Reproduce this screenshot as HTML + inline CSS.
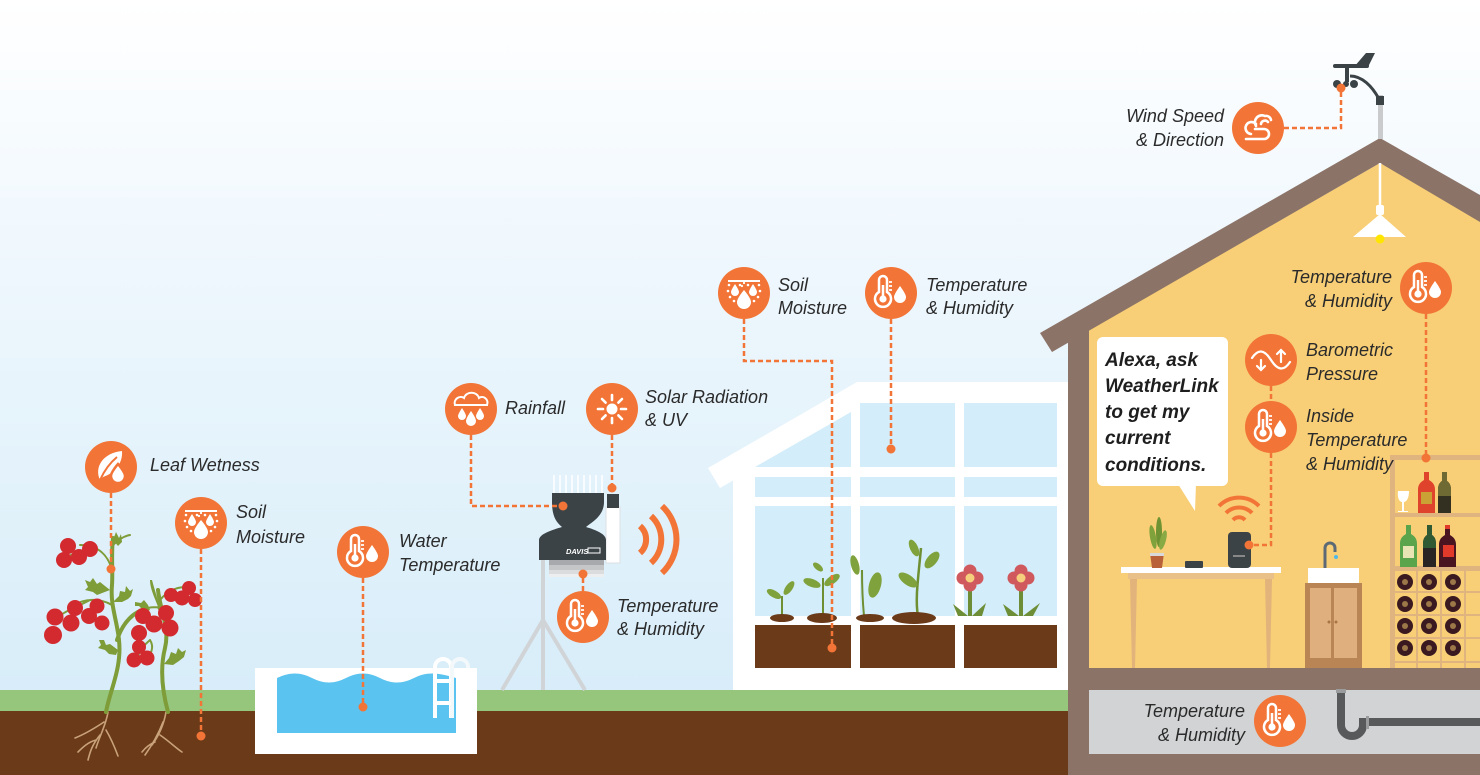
<!DOCTYPE html>
<html><head><meta charset="utf-8">
<style>
html,body{margin:0;padding:0;background:#fff;}
svg{display:block;}
.lbl{font-family:"Liberation Sans",Arial,sans-serif;font-style:italic;font-size:18px;fill:#2b2b2b;}
.alexa{font-family:"Liberation Sans",Arial,sans-serif;font-style:italic;font-weight:bold;font-size:19px;fill:#1e1e1e;}
.dash{stroke:#f27537;stroke-width:2.5;stroke-dasharray:5 3;fill:none;}
.dot{fill:#f27537;}
</style></head>
<body>
<svg width="1480" height="775" viewBox="0 0 1480 775" xmlns="http://www.w3.org/2000/svg">
<defs>
<linearGradient id="sky" x1="0" y1="0" x2="0" y2="1">
<stop offset="0" stop-color="#ffffff"/>
<stop offset="0.35" stop-color="#eef7fd"/>
<stop offset="1" stop-color="#d3ebf8"/>
</linearGradient>
<g id="thermo">
<circle r="26" fill="#f27537"/>
<path d="M-12,-13 a4,4 0 0 1 8,0 v12 a8,8 0 1 1 -8,0 z" fill="none" stroke="#fff" stroke-width="2.5"/>
<circle cx="-8" cy="6" r="3.6" fill="#fff"/>
<line x1="-8" y1="6" x2="-8" y2="-8" stroke="#fff" stroke-width="2.5"/>
<path d="M-2,-11 h3 M-2,-7 h3 M-2,-3 h3" stroke="#fff" stroke-width="1.8"/>
<path d="M9,-7 C9,-7 3,1 3,4 a6,6 0 0 0 12,0 C15,1 9,-7 9,-7 z" fill="#fff"/>
</g>
<g id="soil">
<circle r="26" fill="#f27537"/>
<line x1="-16" y1="-12" x2="16" y2="-12" stroke="#fff" stroke-width="2"/>
<path d="M0,-3 C0,-3 -7,5 -7,9 a7,7 0 0 0 14,0 C7,5 0,-3 0,-3 z" fill="#fff"/>
<path d="M-9,-9 C-9,-9 -13,-3 -13,-1 a4,4 0 0 0 8,0 C-5,-3 -9,-9 -9,-9 z" fill="#fff"/>
<path d="M9,-9 C9,-9 5,-3 5,-1 a4,4 0 0 0 8,0 C13,-3 9,-9 9,-9 z" fill="#fff"/>
<g fill="#fff"><circle cx="-15" cy="-8" r="1.3"/><circle cx="-4" cy="-8" r="1.3"/><circle cx="4" cy="-8" r="1.3"/><circle cx="15" cy="-8" r="1.3"/><circle cx="-16" cy="-2" r="1.3"/><circle cx="16" cy="-2" r="1.3"/><circle cx="-14" cy="4" r="1.3"/><circle cx="14" cy="4" r="1.3"/><circle cx="-10" cy="8" r="1.3"/><circle cx="10" cy="8" r="1.3"/><circle cx="-2" cy="-7" r="1.1"/><circle cx="0" cy="-10" r="1.1"/></g>
</g>
<g id="leaf">
<circle r="26" fill="#f27537"/>
<path d="M-11,13 C-17,0 -8,-14 11,-16 C12,-4 4,6 -8,10 Z" fill="#fff"/>
<path d="M-11,13 C-6,2 0,-5 6,-10" stroke="#f27537" stroke-width="2" fill="none"/>
<path d="M7,-3 C7,-3 0,5 0,9 a7,7 0 0 0 14,0 C14,5 7,-3 7,-3 z" fill="#fff" stroke="#f27537" stroke-width="2.5"/>
</g>
<g id="rain">
<circle r="26" fill="#f27537"/>
<path d="M-16,-4 C-18,-10 -11,-14 -7,-11 C-5,-18 6,-18 8,-11 C12,-14 18,-10 16,-4" fill="none" stroke="#fff" stroke-width="2"/>
<line x1="-17" y1="-4" x2="17" y2="-4" stroke="#fff" stroke-width="2"/>
<path d="M-9,-1 C-9,-1 -13,5 -13,7 a4,4 0 0 0 8,0 C-5,5 -9,-1 -9,-1 z" fill="#fff"/>
<path d="M9,-1 C9,-1 5,5 5,7 a4,4 0 0 0 8,0 C13,5 9,-1 9,-1 z" fill="#fff"/>
<path d="M0,2 C0,2 -5,9 -5,12 a5,5 0 0 0 10,0 C5,9 0,2 0,2 z" fill="#fff"/>
</g>
<g id="sun">
<circle r="26" fill="#f27537"/>
<circle r="5.5" fill="#fff"/>
<g stroke="#fff" stroke-width="2.6" stroke-linecap="round">
<line x1="0" y1="-9" x2="0" y2="-14"/><line x1="0" y1="9" x2="0" y2="14"/>
<line x1="-9" y1="0" x2="-14" y2="0"/><line x1="9" y1="0" x2="14" y2="0"/>
<line x1="6.4" y1="-6.4" x2="10" y2="-10"/><line x1="-6.4" y1="6.4" x2="-10" y2="10"/>
<line x1="6.4" y1="6.4" x2="10" y2="10"/><line x1="-6.4" y1="-6.4" x2="-10" y2="-10"/>
</g>
</g>
<g id="wind">
<circle r="26" fill="#f27537"/>
<g fill="none" stroke="#fff" stroke-width="2.6" stroke-linecap="round">
<path d="M-12,11 H6 a5,5 0 0 0 0,-10 H-3"/>
<path d="M-7,6 a6,6 0 1 1 5,-10"/>
<path d="M-2,-2 a7,7 0 0 1 9,-10 a5,5 0 0 1 6,4"/>
<path d="M3,-4 a4,4 0 0 1 7,-2"/>
</g>
</g>
<g id="baro">
<circle r="26" fill="#f27537"/>
<g fill="none" stroke="#fff" stroke-width="2.2" stroke-linecap="round">
<path d="M-19,-2 C-13,-11 -7,-11 0,0 C7,11 13,11 19,2"/>
<path d="M-10,0 V10 M-14,6 L-10,10 L-6,6"/>
<path d="M10,2 V-10 M6,-6 L10,-10 L14,-6"/>
</g>
</g>
</defs>

<!-- sky & ground -->
<rect x="0" y="0" width="1480" height="775" fill="url(#sky)"/>
<rect x="0" y="690" width="1080" height="22" fill="#96c57c"/>
<rect x="0" y="711" width="1080" height="64" fill="#6a3a19"/>

<!-- greenhouse -->
<polygon points="733,690 733,478 868,400 1068,400 1068,690" fill="#fff"/>
<polygon points="708,468 857,382 1068,382 1068,403 867,403 720,488" fill="#fff"/>
<g fill="#d3edfa">
<polygon points="755,467 851,412 851,467"/>
<rect x="860" y="403" width="95" height="64"/>
<rect x="964" y="403" width="93" height="64"/>
<rect x="755" y="477" width="96" height="20"/>
<rect x="860" y="477" width="95" height="20"/>
<rect x="964" y="477" width="93" height="20"/>
<rect x="755" y="506" width="96" height="110"/>
<rect x="860" y="506" width="95" height="110"/>
<rect x="964" y="506" width="93" height="110"/>
</g>
<g fill="#6a3a19">
<rect x="755" y="625" width="96" height="43"/>
<rect x="860" y="625" width="95" height="43"/>
<rect x="964" y="625" width="93" height="43"/>
</g>
<!-- seedlings -->
<g fill="#7fa23c" stroke="none">
<path d="M782,616 V596" stroke="#6f8f33" stroke-width="2"/>
<ellipse cx="774" cy="594" rx="8" ry="3.5" transform="rotate(30 774 594)"/>
<ellipse cx="789" cy="588" rx="8" ry="3.5" transform="rotate(-55 789 588)"/>
<path d="M823,616 V578" stroke="#6f8f33" stroke-width="2"/>
<ellipse cx="812" cy="583" rx="9" ry="4" transform="rotate(20 812 583)"/>
<ellipse cx="832" cy="580" rx="9" ry="4" transform="rotate(-35 832 580)"/>
<ellipse cx="818" cy="567" rx="6" ry="3" transform="rotate(40 818 567)"/>
<ellipse cx="855" cy="565" rx="4" ry="10" transform="rotate(-15 855 565)"/>
<path d="M864,616 C862,595 862,580 862,570" stroke="#6f8f33" stroke-width="2" fill="none"/>
<ellipse cx="875" cy="585" rx="6" ry="13" transform="rotate(15 875 585)"/>
<path d="M918,616 C915,600 918,580 921,548" stroke="#6f8f33" stroke-width="2.5" fill="none"/>
<ellipse cx="908" cy="580" rx="11" ry="5" transform="rotate(35 908 580)"/>
<ellipse cx="932" cy="560" rx="10" ry="5" transform="rotate(-50 932 560)"/>
<ellipse cx="914" cy="548" rx="4" ry="9" transform="rotate(-25 914 548)"/>
</g>
<g fill="#6a3a19">
<ellipse cx="782" cy="618" rx="12" ry="4"/>
<ellipse cx="822" cy="618" rx="15" ry="5"/>
<ellipse cx="870" cy="618" rx="14" ry="4"/>
<ellipse cx="914" cy="618" rx="22" ry="6"/>
</g>
<!-- flowers -->
<g>
<path d="M970,616 V590 M1021,616 V590" stroke="#6d8e36" stroke-width="4"/>
<path d="M953,604 L968,616 L958,616Z M986,603 L972,616 L982,616Z M1003,604 L1019,616 L1008,616Z M1040,603 L1023,616 L1033,616Z" fill="#6d8e36"/>
<g fill="#d0595e">
<circle cx="963" cy="578" r="6.5"/><circle cx="977" cy="578" r="6.5"/><circle cx="970" cy="571" r="6.5"/><circle cx="970" cy="585" r="6.5"/>
<circle cx="1014" cy="578" r="6.5"/><circle cx="1028" cy="578" r="6.5"/><circle cx="1021" cy="571" r="6.5"/><circle cx="1021" cy="585" r="6.5"/>
</g>
<circle cx="970" cy="578" r="4.5" fill="#f6cf7c"/>
<circle cx="1021" cy="578" r="4.5" fill="#f6cf7c"/>
</g>

<!-- house -->
<rect x="1068" y="330" width="412" height="445" fill="#8c7367"/>
<polygon points="1089,330 1380,163 1480,220 1480,668 1089,668" fill="#f8cf76"/>
<polygon points="1040,333 1380,138 1480,195 1480,222 1380,163 1052,352" fill="#8c7367"/>
<rect x="1089" y="690" width="391" height="64" fill="#d1d3d4"/>
<!-- pipe -->
<path d="M1341,690 V725 a11,11 0 0 0 22,0 V722 H1480" fill="none" stroke="#58595b" stroke-width="8"/>
<rect x="1336" y="689" width="10" height="4" fill="#9a9b9d"/>
<rect x="1366" y="716" width="3" height="13" fill="#9a9b9d"/>
<!-- lamp -->
<line x1="1380" y1="163" x2="1380" y2="208" stroke="#fff" stroke-width="2.5"/>
<rect x="1376" y="205" width="8" height="10" rx="2" fill="#fff"/>
<polygon points="1353,237 1380,214 1406,237" fill="#fff"/>
<circle cx="1380" cy="239" r="4.5" fill="#ffe600"/>
<!-- wind vane -->
<rect x="1378" y="95" width="5" height="44" fill="#c9cbcd"/>
<rect x="1376" y="96" width="8" height="9" fill="#3b4347"/>
<path d="M1350,76 C1362,76 1372,86 1379,99" stroke="#3b4347" stroke-width="3" fill="none"/>
<polygon points="1354,67 1366,53 1375,53 1368,67" fill="#3b4347"/>
<rect x="1333" y="64" width="36" height="4" rx="2" fill="#3b4347"/>
<rect x="1345" y="66" width="4" height="16" fill="#3b4347"/>
<circle cx="1337" cy="84" r="4" fill="#3b4347"/><circle cx="1354" cy="84" r="4" fill="#3b4347"/><circle cx="1346" cy="84" r="3" fill="#3b4347"/>
<!-- wine rack -->
<g fill="#dfb47e">
<rect x="1390" y="455" width="5" height="213"/>
<rect x="1390" y="455" width="90" height="5"/>
<rect x="1390" y="513" width="90" height="4"/>
<rect x="1390" y="566" width="90" height="5"/>
<rect x="1390" y="591" width="90" height="2"/><rect x="1390" y="614" width="90" height="2"/><rect x="1390" y="637" width="90" height="2"/><rect x="1390" y="661" width="90" height="2"/>
<rect x="1416" y="571" width="2" height="97"/><rect x="1440" y="571" width="2" height="97"/><rect x="1464" y="571" width="2" height="97"/>
</g>
<g>
<g fill="#3a1a20">
<circle cx="1405" cy="582" r="8"/><circle cx="1429" cy="582" r="8"/><circle cx="1453" cy="582" r="8"/>
<circle cx="1405" cy="604" r="8"/><circle cx="1429" cy="604" r="8"/><circle cx="1453" cy="604" r="8"/>
<circle cx="1405" cy="626" r="8"/><circle cx="1429" cy="626" r="8"/><circle cx="1453" cy="626" r="8"/>
<circle cx="1405" cy="648" r="8"/><circle cx="1429" cy="648" r="8"/><circle cx="1453" cy="648" r="8"/>
</g>
<g fill="#9c7748">
<circle cx="1405" cy="582" r="3"/><circle cx="1429" cy="582" r="3"/><circle cx="1453" cy="582" r="3"/>
<circle cx="1405" cy="604" r="3"/><circle cx="1429" cy="604" r="3"/><circle cx="1453" cy="604" r="3"/>
<circle cx="1405" cy="626" r="3"/><circle cx="1429" cy="626" r="3"/><circle cx="1453" cy="626" r="3"/>
<circle cx="1405" cy="648" r="3"/><circle cx="1429" cy="648" r="3"/><circle cx="1453" cy="648" r="3"/>
</g>
</g>
<!-- bottles -->
<path d="M1398,491 h11 c0,8 -3,11 -5,11 v9 h4 v1 h-10 v-1 h4 v-9 c-2,0 -5,-3 -4,-11z" fill="#fff"/>
<path d="M1424,472 h5 v8 c5,3 6,6 6,10 v23 h-17 v-23 c0,-4 1,-7 6,-10z" fill="#e0432b"/>
<rect x="1421" y="492" width="11" height="12" fill="#c9a135"/>
<path d="M1442,472 h5 v9 c3,2 4,5 4,9 v23 h-13 v-23 c0,-4 1,-7 4,-9z" fill="#333022"/>
<path d="M1442,472 h5 v9 c3,2 4,5 4,9 v6 h-13 v-6 c0,-4 1,-7 4,-9z" fill="#6f6a33"/>
<path d="M1406,525 h5 v9 c5,3 6,6 6,10 v23 h-17 v-23 c0,-4 1,-7 6,-10z" fill="#5aa44c"/>
<rect x="1403" y="546" width="11" height="12" fill="#e8e4b4"/>
<path d="M1427,525 h5 v10 c3,2 4,5 4,9 v23 h-13 v-23 c0,-4 1,-7 4,-9z" fill="#2a2525"/>
<path d="M1427,525 h5 v10 c3,2 4,5 4,9 v4 h-13 v-4 c0,-4 1,-7 4,-9z" fill="#2f5a33"/>
<path d="M1445,525 h5 v10 c5,3 6,6 6,10 v22 h-17 v-22 c0,-4 1,-7 6,-10z" fill="#4a1420"/>
<rect x="1443" y="545" width="11" height="12" fill="#e23a2a"/>
<rect x="1445" y="525" width="5" height="4" fill="#e23a2a"/>
<!-- table -->
<rect x="1121" y="567" width="160" height="6" fill="#fff"/>
<rect x="1128" y="573" width="146" height="6" fill="#e8c088"/>
<polygon points="1130,579 1137,579 1135,668 1132,668" fill="#e2b37b"/>
<polygon points="1265,579 1272,579 1270,668 1267,668" fill="#e2b37b"/>
<!-- plant pot -->
<path d="M1150,553 h14 l-2,15 h-10z" fill="#b9623a"/>
<rect x="1150" y="553" width="14" height="3" fill="#d9d9d9"/>
<ellipse cx="1153" cy="537" rx="3" ry="12" fill="#7fa23c" transform="rotate(-10 1153 537)"/>
<ellipse cx="1159" cy="532" rx="3" ry="15" fill="#6f9232"/>
<ellipse cx="1163" cy="540" rx="3" ry="10" fill="#88aa44" transform="rotate(15 1163 540)"/>
<rect x="1185" y="561" width="18" height="7" rx="1" fill="#3b4347"/>
<!-- device -->
<rect x="1228" y="532" width="23" height="36" rx="4" fill="#3b4347"/>
<rect x="1233" y="555" width="12" height="2" fill="#888"/>
<g fill="none" stroke="#f27537" stroke-width="4" stroke-linecap="butt">
<path d="M1233,520 a8,8 0 0 1 12,0"/>
<path d="M1226,513 a18,18 0 0 1 26,0"/>
<path d="M1219,506 a28,28 0 0 1 40,0"/>
</g>
<!-- sink -->
<rect x="1305" y="583" width="57" height="85" fill="#ba8554"/>
<rect x="1310" y="588" width="21" height="70" fill="#dfb07e"/>
<rect x="1334" y="588" width="23" height="70" fill="#dfb07e"/>
<circle cx="1329" cy="622" r="1.5" fill="#a87444"/><circle cx="1336" cy="622" r="1.5" fill="#a87444"/>
<path d="M1325,568 V548 a5,5 0 0 1 10,0 v4" stroke="#5d6a75" stroke-width="3" fill="none"/>
<circle cx="1336" cy="557" r="2" fill="#4fb8e8"/>
<rect x="1308" y="568" width="51" height="15" fill="#fff"/>
<!-- alexa bubble -->
<rect x="1097" y="337" width="131" height="149" rx="6" fill="#fff"/>
<polygon points="1178,484 1196,484 1195,511" fill="#fff"/>
<text class="alexa" x="1105" y="366">Alexa, ask</text>
<text class="alexa" x="1105" y="392">WeatherLink</text>
<text class="alexa" x="1105" y="418">to get my</text>
<text class="alexa" x="1105" y="444">current</text>
<text class="alexa" x="1105" y="471">conditions.</text>

<!-- pool -->
<rect x="255" y="668" width="222" height="86" fill="#fff"/>
<path d="M277,678 C290,672 300,672 312,678 C324,684 334,684 346,678 C358,672 368,672 380,678 C392,684 402,684 414,678 C426,672 436,672 456,678 V733 H277Z" fill="#5bc3ef"/>
<g fill="none" stroke="#fff" stroke-width="4">
<path d="M435,718 V667 a8,8 0 0 1 16,0 V718"/>
<path d="M452,718 V667 a8,8 0 0 1 16,0 V718" stroke="#f3f8fb"/>
<line x1="435" y1="681" x2="451" y2="681"/><line x1="435" y1="703" x2="451" y2="703"/>
</g>
<rect x="456" y="668" width="21" height="86" fill="#fff"/>

<!-- weather station -->
<g stroke="#d1d4d7" stroke-width="4" fill="none">
<line x1="543" y1="540" x2="543" y2="690"/>
<line x1="543" y1="620" x2="502" y2="690"/>
<line x1="543" y1="620" x2="585" y2="690"/>
</g>
<rect x="606" y="507" width="14" height="56" fill="#fff" stroke="#dcdfe2" stroke-width="1"/>
<rect x="607" y="494" width="12" height="14" fill="#3b4347"/>
<g stroke="#fff" stroke-width="1.5">
<line x1="554" y1="475" x2="554" y2="493"/><line x1="560" y1="475" x2="560" y2="493"/><line x1="566" y1="475" x2="566" y2="493"/><line x1="572" y1="475" x2="572" y2="493"/><line x1="578" y1="475" x2="578" y2="493"/><line x1="584" y1="475" x2="584" y2="493"/><line x1="590" y1="475" x2="590" y2="493"/><line x1="596" y1="475" x2="596" y2="493"/><line x1="602" y1="475" x2="602" y2="493"/>
</g>
<path d="M552,493 H604 V502 C604,516 592,522 586,527 C596,530 606,534 606,540 V560 H539 V540 C539,534 552,530 562,527 C556,522 552,516 552,502 Z" fill="#3b4347"/>
<text x="566" y="554" font-family="Liberation Sans,Arial,sans-serif" font-size="7.5" font-weight="bold" font-style="italic" fill="#fff">DAVIS</text>
<rect x="588" y="548" width="12" height="5" fill="none" stroke="#fff" stroke-width="1"/>
<rect x="549" y="560" width="55" height="5" fill="#a7a9ac"/>
<rect x="549" y="565" width="55" height="5" fill="#c4c6c8"/>
<rect x="549" y="570" width="55" height="4" fill="#dadcde"/>
<rect x="549" y="574" width="55" height="3" fill="#eceef0"/>
<g fill="none" stroke="#f27537" stroke-width="6">
<path d="M640,526 a18,18 0 0 1 0,27"/>
<path d="M651,516 a32,32 0 0 1 0,47"/>
<path d="M662,506 a46,46 0 0 1 0,67"/>
</g>

<!-- tomato plants -->
<g fill="none" stroke-linecap="round">
<g stroke="#c9a27a" stroke-width="1.6">
<path d="M108,712 C106,725 100,735 96,748 M104,722 C95,728 85,734 75,738 M100,735 C92,745 90,752 88,760 M106,730 C112,740 115,748 118,756 M96,740 C88,742 82,748 78,752"/>
<path d="M166,712 C164,724 160,734 152,745 M163,722 C158,735 150,748 145,755 M160,735 C170,742 176,748 182,752 M155,742 C150,744 146,747 142,752"/>
</g>
<g stroke="#7e9c38" stroke-width="4">
<path d="M106,712 C110,690 122,668 119,640 C117,620 110,605 112,585 C113,570 111,555 113,538"/>
<path d="M168,712 C162,690 160,668 165,648 C170,628 160,610 158,590"/>
<path d="M117,640 C122,625 130,615 142,610"/>
</g>
<g stroke="#7e9c38" stroke-width="2">
<path d="M112,570 C108,555 98,545 80,545 M96,548 C85,550 72,552 64,560"/>
<path d="M112,605 C100,598 85,598 72,606 M90,600 C75,608 62,612 55,620"/>
<path d="M142,610 C150,606 162,606 170,612 M158,607 C160,612 166,620 170,628"/>
<path d="M160,600 C168,590 180,585 192,588"/>
<path d="M150,640 C144,645 140,650 138,656 M150,640 C155,648 150,655 147,658"/>
<path d="M113,545 C118,540 124,536 130,535"/>
</g>
</g>
<g fill="#7e9c38">
<path d="M113,540 l3,-8 l3,6 l2,-4 l1,8 l-4,4z"/>
<path d="M110,590 l-10,-8 l-3,2 l-4,-6 l-3,4 l-5,-2 l3,7 l-3,3 l8,2 l4,3z"/>
<path d="M113,602 l6,-6 l1,-5 l5,1 l1,-6 l4,5 l3,-2 l-2,7 l-3,3 l-6,3z"/>
<path d="M118,650 l-8,-6 l-4,1 l-2,-5 l-5,0 l2,5 l-3,3 l7,2 l4,4 l7,1z"/>
<path d="M164,664 l5,-6 l2,-6 l5,2 l2,-6 l4,4 l4,-2 l-2,7 l-5,4 l-6,4z"/>
<path d="M152,580 C156,595 160,605 160,612 C156,600 150,590 150,580z"/>
<path d="M145,612 l-6,-6 l-4,0 l0,-4 l6,1 l3,-3 l4,5 l2,5z"/>
</g>
<g fill="#d32a2f">
<circle cx="68" cy="546" r="8"/><circle cx="64" cy="560" r="8"/><circle cx="79" cy="557" r="8"/><circle cx="90" cy="549" r="8"/>
<circle cx="55" cy="617" r="8.5"/><circle cx="53" cy="635" r="9"/><circle cx="71" cy="623" r="8.5"/><circle cx="75" cy="608" r="8"/><circle cx="89" cy="616" r="8"/><circle cx="97" cy="606" r="7.5"/><circle cx="102" cy="623" r="7.5"/>
<circle cx="143" cy="616" r="8"/><circle cx="139" cy="633" r="8"/><circle cx="154" cy="624" r="8.5"/><circle cx="166" cy="613" r="8"/><circle cx="170" cy="628" r="8.5"/>
<circle cx="139" cy="647" r="7"/><circle cx="134" cy="660" r="7.5"/><circle cx="147" cy="658" r="7.5"/>
<circle cx="171" cy="595" r="7"/><circle cx="182" cy="598" r="7.5"/><circle cx="189" cy="588" r="7"/><circle cx="195" cy="600" r="7"/>
</g>

<!-- connectors -->
<path class="dash" d="M111,493 V569"/>
<circle class="dot" cx="111" cy="569" r="4.5"/>
<path class="dash" d="M201,549 V736"/>
<circle class="dot" cx="201" cy="736" r="4.5"/>
<path class="dash" d="M363,578 V707"/>
<circle class="dot" cx="363" cy="707" r="4.5"/>
<path class="dash" d="M471,435 V506 H563"/>
<circle class="dot" cx="563" cy="506" r="4.5"/>
<path class="dash" d="M612,435 V488"/>
<circle class="dot" cx="612" cy="488" r="4.5"/>
<path class="dash" d="M583,591 V574"/>
<circle class="dot" cx="583" cy="574" r="4.5"/>
<path class="dash" d="M744,319 V361 H832 V648"/>
<circle class="dot" cx="832" cy="648" r="4.5"/>
<path class="dash" d="M891,319 V449"/>
<circle class="dot" cx="891" cy="449" r="4.5"/>
<path class="dash" d="M1284,128 H1341 V88"/>
<circle class="dot" cx="1341" cy="88" r="4.5"/>
<path class="dash" d="M1426,314 V458"/>
<circle class="dot" cx="1426" cy="458" r="4.5"/>
<path class="dash" d="M1271,386 V401"/>
<path class="dash" d="M1271,453 V545 H1249"/>
<circle class="dot" cx="1249" cy="545" r="4.5"/>

<!-- icons -->
<use href="#leaf" x="111" y="467"/>
<use href="#soil" x="201" y="523"/>
<use href="#thermo" x="363" y="552"/>
<use href="#rain" x="471" y="409"/>
<use href="#sun" x="612" y="409"/>
<use href="#thermo" x="583" y="617"/>
<use href="#soil" x="744" y="293"/>
<use href="#thermo" x="891" y="293"/>
<use href="#wind" x="1258" y="128"/>
<use href="#thermo" x="1426" y="288"/>
<use href="#baro" x="1271" y="360"/>
<use href="#thermo" x="1271" y="427"/>
<use href="#thermo" x="1280" y="721"/>

<!-- labels -->
<text class="lbl" x="150" y="471">Leaf Wetness</text>
<text class="lbl" x="236" y="518">Soil</text>
<text class="lbl" x="236" y="543">Moisture</text>
<text class="lbl" x="399" y="547">Water</text>
<text class="lbl" x="399" y="571">Temperature</text>
<text class="lbl" x="505" y="414">Rainfall</text>
<text class="lbl" x="645" y="403">Solar Radiation</text>
<text class="lbl" x="645" y="426">&amp; UV</text>
<text class="lbl" x="617" y="612">Temperature</text>
<text class="lbl" x="617" y="635">&amp; Humidity</text>
<text class="lbl" x="778" y="291">Soil</text>
<text class="lbl" x="778" y="314">Moisture</text>
<text class="lbl" x="926" y="291">Temperature</text>
<text class="lbl" x="926" y="314">&amp; Humidity</text>
<text class="lbl" x="1224" y="122" text-anchor="end">Wind Speed</text>
<text class="lbl" x="1224" y="146" text-anchor="end">&amp; Direction</text>
<text class="lbl" x="1392" y="283" text-anchor="end">Temperature</text>
<text class="lbl" x="1392" y="307" text-anchor="end">&amp; Humidity</text>
<text class="lbl" x="1306" y="356">Barometric</text>
<text class="lbl" x="1306" y="380">Pressure</text>
<text class="lbl" x="1306" y="422">Inside</text>
<text class="lbl" x="1306" y="446">Temperature</text>
<text class="lbl" x="1306" y="470">&amp; Humidity</text>
<text class="lbl" x="1245" y="717" text-anchor="end">Temperature</text>
<text class="lbl" x="1245" y="741" text-anchor="end">&amp; Humidity</text>
</svg>
</body></html>
